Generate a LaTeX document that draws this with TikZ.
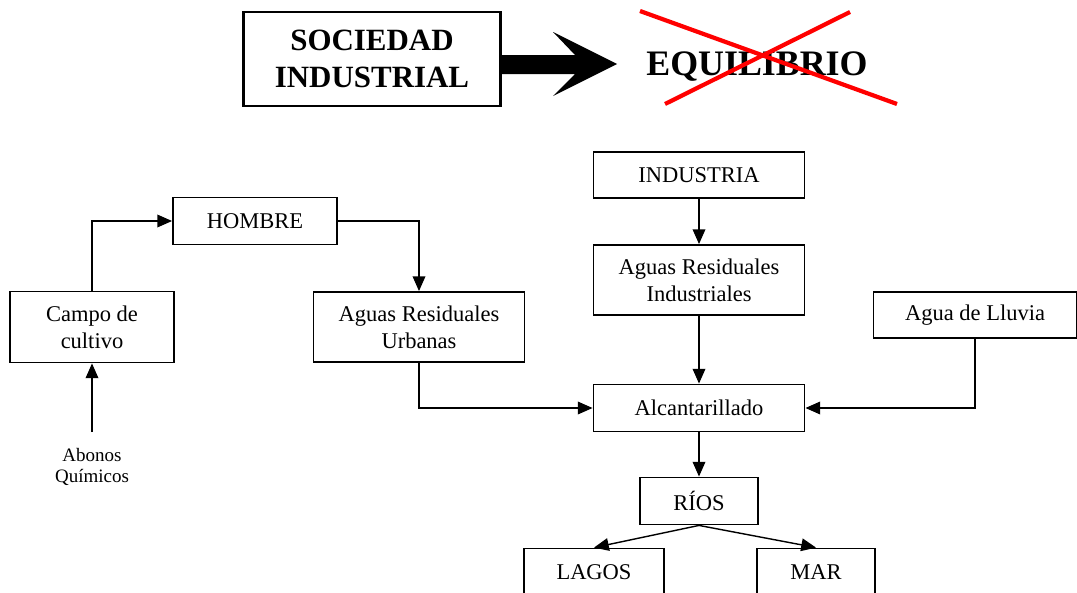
\documentclass[tikz,border=0pt]{standalone}
\usepackage{fontspec}
\setmainfont{Liberation Serif}
\usetikzlibrary{arrows.meta}

\begin{document}
\begin{tikzpicture}
[
	x=0.025cm,y=-0.025cm,
	box/.style={draw,line width=1.3pt,align=center,inner sep=2pt,font=\fontsize{16}{19}\selectfont},
	titlebox/.style={draw,line width=1.6pt,align=center,font=\fontsize{22}{26}\selectfont\bfseries},
	flow/.style={-{Triangle[length=10.5pt,width=9pt]},line width=1pt},
	cross/.style={red,line width=3pt}
]

	\useasboundingbox (0,0) rectangle (1077,592);

	% title
	\node[titlebox,minimum width=6.425cm,minimum height=2.35cm] at (372,59) (sociedad) {SOCIEDAD\\INDUSTRIAL};
	\node[font=\fontsize{25.5}{30}\selectfont\bfseries] at (757,67) (equilibrio) {EQUILIBRIO};
	\fill (501,55) -- (575,55) -- (553,32) -- (617,64) -- (553,96) -- (575,74) -- (501,74) -- cycle;
	\draw[cross] (640,11) -- (897,104);
	\draw[cross] (850,12) -- (665,104);

	% left branch
	\node[box,minimum width=4.1cm,minimum height=1.175cm] at (255,221) (hombre) {HOMBRE};
	\node[box,minimum width=4.1cm,minimum height=1.775cm] at (92,327) (campo) {Campo de\\cultivo};
	\node[box,minimum width=5.275cm,minimum height=1.75cm] at (419,327) (urbanas) {Aguas Residuales\\Urbanas};
	\node[align=center,inner ysep=11pt,font=\fontsize{13.5}{15.5}\selectfont] at (92,467) (abonos) {Abonos\\Químicos};

	% middle column
	\node[box,minimum width=5.275cm,minimum height=1.15cm] at (699,175) (industria) {INDUSTRIA};
	\node[box,minimum width=5.275cm,minimum height=1.75cm] at (699,280) (indres) {Aguas Residuales\\Industriales};
	\node[box,minimum width=5.275cm,minimum height=1.175cm] at (699,408) (alcant) {Alcantarillado};
	\node[box,minimum width=5.075cm,minimum height=1.15cm] at (975,315) (lluvia) {Agua de Lluvia};

	% outlets
	\node[box,minimum width=2.95cm,minimum height=1.175cm] at (699,501) (rios) {RÍOS};
	\node[box,minimum width=3.5cm,minimum height=1.175cm] at (594,572) (lagos) {LAGOS};
	\node[box,minimum width=2.95cm,minimum height=1.175cm] at (816,572) (mar) {MAR};

	% connectors
	\draw[flow] (abonos.north) -- (campo.south);
	\draw[flow] (campo.north) |- (hombre.west);
	\draw[flow] (hombre.east) -| (urbanas.north);
	\draw[flow] (urbanas.south) |- (alcant.west);
	\draw[flow] (industria.south) -- (indres.north);
	\draw[flow] (indres.south) -- (alcant.north);
	\draw[flow] (lluvia.south) |- (alcant.east);
	\draw[flow] (alcant.south) -- (rios.north);
	\draw[flow] (rios.south) -- (lagos.north);
	\draw[flow] (rios.south) -- (mar.north);

\end{tikzpicture}
\end{document}
